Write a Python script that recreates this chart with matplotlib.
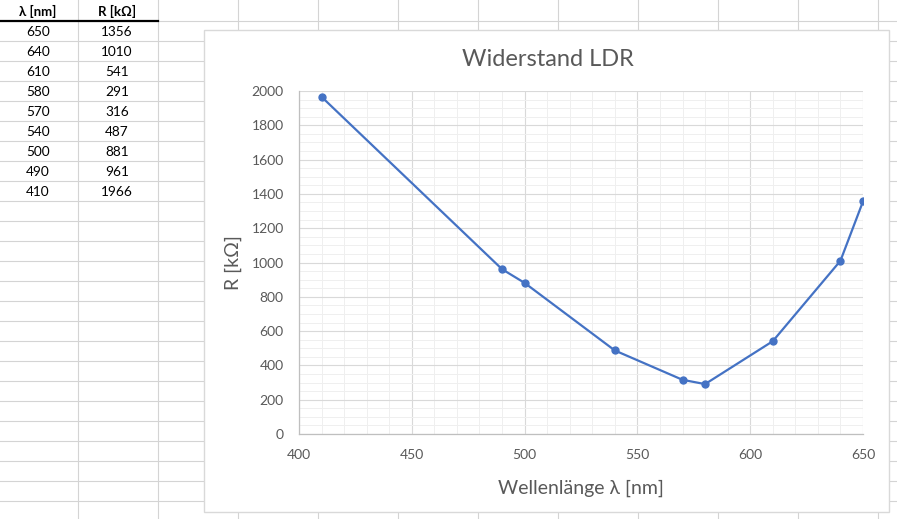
import matplotlib.pyplot as plt
from matplotlib.patches import Rectangle
from matplotlib.ticker import MultipleLocator

# Messwerte (wie in der Tabelle)
wellenlaenge = [650, 640, 610, 580, 570, 540, 500, 490, 410]
widerstand = [1356, 1010, 541, 291, 316, 487, 881, 961, 1966]
kopf = ['λ [nm]', 'R [kΩ]']

FONT = ['Lato', 'Noto Sans', 'DejaVu Sans']
plt.rcParams['font.family'] = FONT

W, H = 897, 519
fig = plt.figure(figsize=(W / 100, H / 100), dpi=100)

# Hintergrund: Tabellenblatt mit Zellgitter
bg = fig.add_axes([0, 0, 1, 1])
bg.set_xlim(0, W)
bg.set_ylim(H, 0)
bg.axis('off')

gitter = '#d4d4d4'
for x in range(78, W, 80):
    bg.plot([x, x], [0, H], color=gitter, lw=0.8, zorder=1)
for y in range(21, H, 20):
    bg.plot([0, W], [y, y], color=gitter, lw=0.8, zorder=1)
bg.plot([0, 158], [21, 21], color='black', lw=1.6, zorder=2)

spalten_x = [38, 117]
for i, t in enumerate(kopf):
    bg.text(spalten_x[i], 11, t, ha='center', va='center', fontsize=9.5,
            fontweight='bold', color='black', zorder=3)
for k in range(len(wellenlaenge)):
    y = 32 + 20 * k
    bg.text(spalten_x[0], y, str(wellenlaenge[k]), ha='center', va='center',
            fontsize=9.8, color='black', zorder=3)
    bg.text(spalten_x[1], y, str(widerstand[k]), ha='center', va='center',
            fontsize=9.8, color='black', zorder=3)

# Diagrammfläche
bg.add_patch(Rectangle((204, 30), 685, 482, facecolor='white',
                       edgecolor='#d9d9d9', lw=1.0, zorder=5))
bg.text(548, 59, 'Widerstand LDR', ha='center', va='center', fontsize=17,
        color='#595959', zorder=6)

# Plot
l, r, t, b = 299, 863, 91, 434
ax = fig.add_axes([l / W, (H - b) / H, (r - l) / W, (b - t) / H])
ax.set_facecolor('none')
ax.plot(wellenlaenge, widerstand, color='#4472C4', lw=1.6, marker='o',
        markersize=5, zorder=3)

ax.set_xlim(400, 650)
ax.set_ylim(0, 2000)
ax.xaxis.set_major_locator(MultipleLocator(50))
ax.xaxis.set_minor_locator(MultipleLocator(10))
ax.yaxis.set_major_locator(MultipleLocator(200))
ax.yaxis.set_minor_locator(MultipleLocator(50))
ax.grid(which='major', color='#d9d9d9', lw=0.8)
ax.grid(which='minor', color='#efefef', lw=0.7)
ax.set_axisbelow(True)

ax.tick_params(which='both', length=0, labelsize=10, labelcolor='#595959')
ax.tick_params(axis='x', pad=11)
ax.tick_params(axis='y', pad=11)

for s in ['top', 'right']:
    ax.spines[s].set_visible(False)
for s in ['left', 'bottom']:
    ax.spines[s].set_color('#bfbfbf')
    ax.spines[s].set_linewidth(0.9)

ax.set_xlabel('Wellenlänge λ [nm]', fontsize=14, color='#595959', va='center')
ax.xaxis.set_label_coords(0.5, -(488 - b) / (b - t))
ax.set_ylabel('R [kΩ]', fontsize=14, color='#595959', va='center')
ax.yaxis.set_label_coords(-(l - 233) / (r - l), 0.5)

fig.savefig('out.png', dpi=100)
